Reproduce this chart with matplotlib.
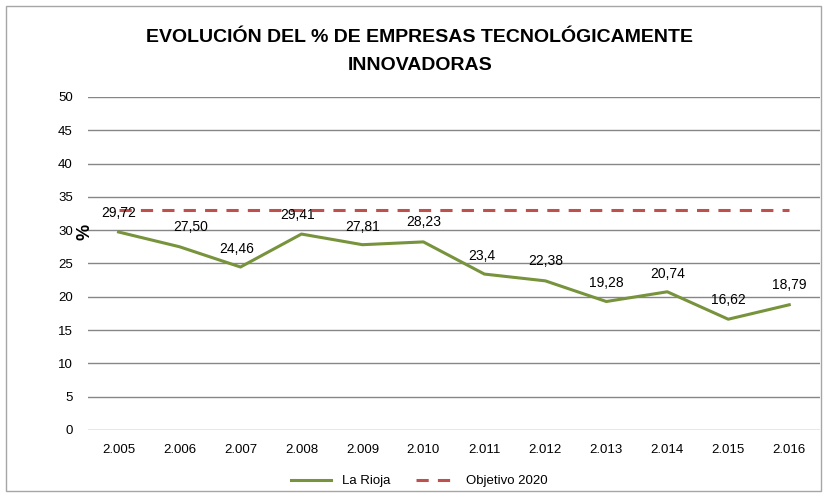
import matplotlib
matplotlib.use("Agg")
import matplotlib.pyplot as plt
from matplotlib.patches import Rectangle

plt.rcParams['font.family'] = ['Liberation Sans', 'DejaVu Sans']

years = ['2.005', '2.006', '2.007', '2.008', '2.009', '2.010',
         '2.011', '2.012', '2.013', '2.014', '2.015', '2.016']
rioja = [29.72, 27.50, 24.46, 29.41, 27.81, 28.23,
         23.4, 22.38, 19.28, 20.74, 16.62, 18.79]
rioja_labels = ['29,72', '27,50', '24,46', '29,41', '27,81', '28,23',
                '23,4', '22,38', '19,28', '20,74', '16,62', '18,79']
objetivo = [33] * 12

fig = plt.figure(figsize=(8.23, 4.97), dpi=100)
fig.patches.append(Rectangle((0.007, 0.012), 0.99, 0.975, transform=fig.transFigure,
                             fill=False, edgecolor='#a6a6a6', linewidth=1))
ax = fig.add_axes([0.107, 0.135, 0.889, 0.67])

x = list(range(len(years)))
ax.plot(x, rioja, color='#77933c', linewidth=2.2, label='La Rioja')
ax.plot(x, objetivo, color='#c0504d', linewidth=2.2, linestyle=(0, (4, 3)),
        label='Objetivo 2020')

# etiquetas de datos encima de cada punto
offsets = [(0, 14), (8, 14), (-3, 13), (-3, 14), (0, 13), (0, 14),
           (-2, 13), (0, 14), (0, 13), (0, 13), (0, 14), (0, 14)]
for xi, yi, lab, off in zip(x, rioja, rioja_labels, offsets):
    ax.annotate(lab, (xi, yi), xytext=off, textcoords='offset points',
                ha='center', va='center', fontsize=10)

ax.set_xlim(-0.5, len(years) - 0.5)
ax.set_ylim(0, 50)
ax.set_yticks(range(0, 51, 5))
ax.set_xticks(x)
ax.set_xticklabels(years)
ax.tick_params(length=0, labelsize=9.5)
ax.tick_params(axis='x', pad=10)
ax.tick_params(axis='y', pad=11)
ax.grid(axis='y', color='#868686', linewidth=1)
ax.set_axisbelow(True)
for s in ax.spines.values():
    s.set_visible(False)
fig.text(85 / 823, 1 - 232 / 497, '%', rotation=90, fontsize=13,
         fontweight='bold', ha='center', va='center')

fig.text(0.51, 1 - 38 / 497, 'EVOLUCIÓN DEL % DE EMPRESAS TECNOLÓGICAMENTE',
         fontsize=14, fontweight='bold', ha='center', va='center')
fig.text(0.51, 1 - 66 / 497, 'INNOVADORAS',
         fontsize=14, fontweight='bold', ha='center', va='center')

fig.legend(loc='center', bbox_to_anchor=(0.51, 1 - 481 / 497), ncol=2, frameon=False,
           fontsize=9.5, handlelength=3, columnspacing=2)

fig.savefig('out.png', dpi=100)
